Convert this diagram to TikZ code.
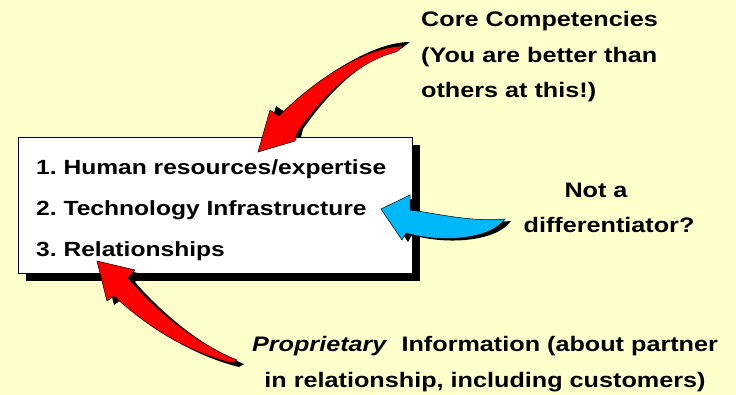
\documentclass[tikz,border=0pt]{standalone}
\usepackage{fontspec}
\setmainfont{Liberation Sans}[FakeStretch=1.2]
\usetikzlibrary{shadows}
\definecolor{slidebg}{HTML}{FFFFCC}
\definecolor{arrowred}{HTML}{FF0000}
\definecolor{arrowcyan}{HTML}{00B8F8}
\tikzset{
    itembox/.style={
        rectangle,
        draw=black,
        fill=white,
        line width=0.8pt,
        minimum width=394pt,
        minimum height=136pt,
        inner sep=0pt,
        general shadow={fill=black, shadow xshift=8pt, shadow yshift=-8pt}
    },
    itemtext/.style={
        align=left,
        inner sep=0pt,
        font=\fontsize{20.5}{41}\selectfont\bfseries
    },
    note/.style={
        inner sep=0pt,
        font=\fontsize{21}{35.5}\selectfont\bfseries
    },
    ribbon/.style={
        draw=black,
        line width=0.5pt,
        line join=miter,
        fill=#1
    }
}
\frenchspacing

\begin{document}
\begin{tikzpicture}[x=1pt, y=-1pt]
        % Background
        \fill[slidebg] (0,0) rectangle (736,395);
        \useasboundingbox (0,0) rectangle (736,395);

        % Nodes (base = last line)
        \node (items) [itembox, anchor=north west] at (18,137) {};
        \node (itemlist) [itemtext, anchor=base west] at (36,257)
            {1. Human resources/expertise\\2. Technology Infrastructure\\3. Relationships};
        \node (core) [note, align=left, anchor=base west] at (421,98)
            {Core Competencies\\(You are better than\\others at this!)};
        \node (notdiff) [note, align=center, anchor=base] at (609,233)
            {Not a\hspace*{26pt}\\differentiator?};
        \node (propinfo) [note, align=center, anchor=base] at (485,387)
            {\textit{Proprietary}\ \ Information (about partner\\in relationship, including customers)};

        % Arrows
        \draw[ribbon=arrowred, general shadow={fill=black, shadow xshift=6pt, shadow yshift=4pt}]
            (404,46) .. controls (370,46) and (320,75) .. (279,116) -- (270,110) -- (258,152)
            -- (295,141) -- (297,133) .. controls (320,100) and (355,62) .. (396,52) -- cycle;
        \draw[ribbon=arrowcyan, general shadow={fill=black, shadow xshift=6pt, shadow yshift=-2pt}]
            (505,219) .. controls (470,222) and (440,214) .. (410,210) -- (410,195) -- (381,209)
            -- (402,240) -- (406,233) .. controls (440,243) and (490,240) .. cycle;
        \draw[ribbon=arrowred, general shadow={fill=black, shadow xshift=7pt, shadow yshift=-4pt}]
            (237,360) .. controls (200,345) and (160,315) .. (128,278) -- (135,270) -- (97,261)
            -- (107,301) -- (114,296) .. controls (140,320) and (180,350) .. (232,363) -- cycle;
    \end{tikzpicture}
\end{document}
